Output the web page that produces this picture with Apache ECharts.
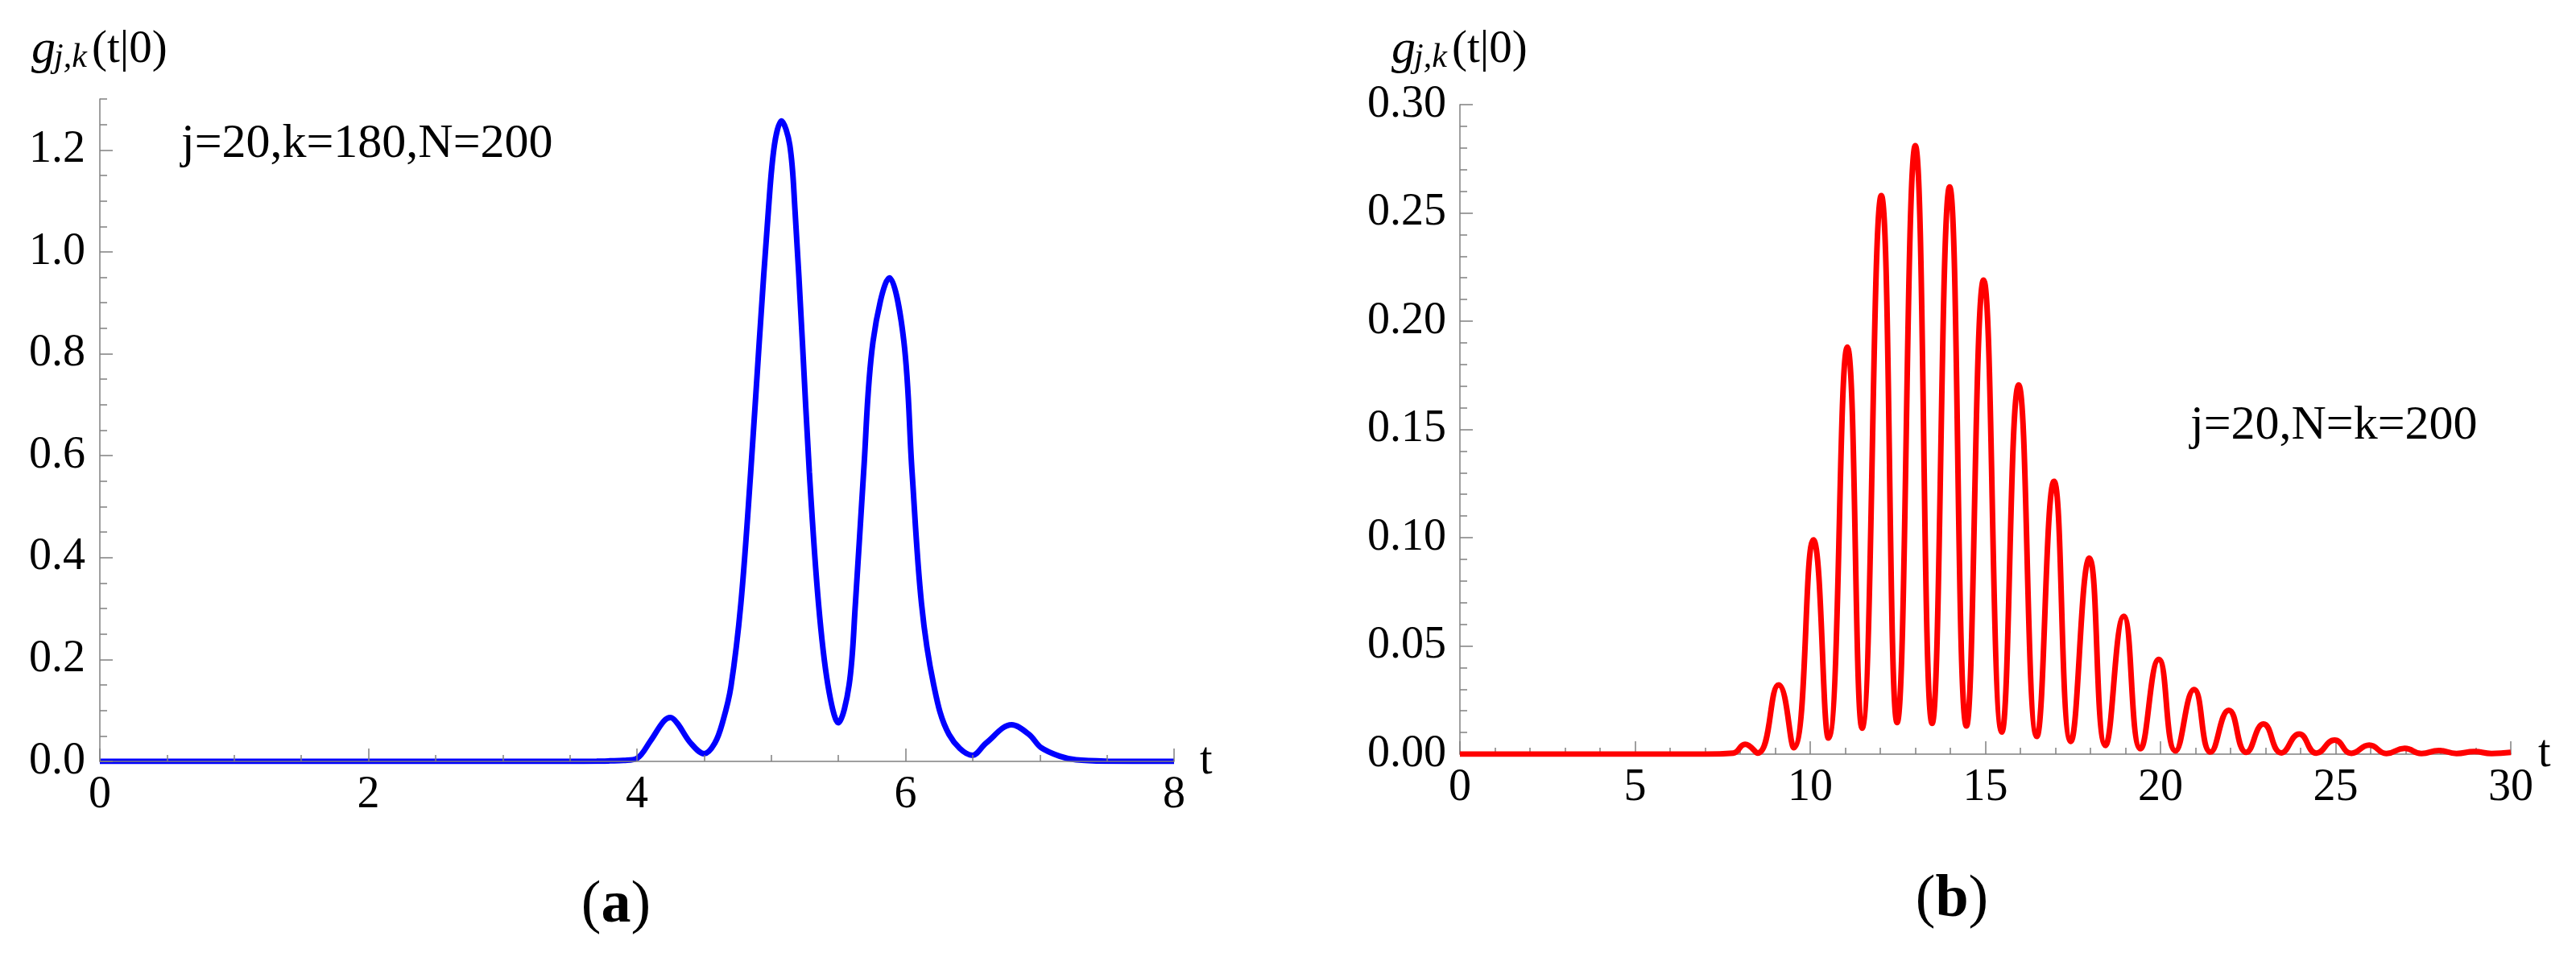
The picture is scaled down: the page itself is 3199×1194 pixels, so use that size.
<!DOCTYPE html>
<html><head><meta charset="utf-8">
<script src="https://cdn.jsdelivr.net/npm/echarts@6/dist/echarts.min.js"></script>
<style>html,body{margin:0;padding:0;background:#fff;}#c{width:3199px;height:1194px;}</style>
</head><body><div id="c"></div>
<script>
// ---- data ----
const leftT = [0,1,2,3,3.5,3.7,3.8,3.9,4.0,4.1,4.2,4.25,4.3,4.4,4.5,4.58,4.64,4.70,4.774,4.847,4.911,4.979,5.024,5.076,5.138,5.177,5.232,5.284,5.352,5.422,5.5,5.58,5.627,5.688,5.758,5.881,5.988,6.049,6.119,6.21,6.324,6.5,6.6,6.79,6.92,7.01,7.15,7.27,7.5,8.0];
const leftG = [0,0,0,0,0,0.0003,0.001,0.002,0.006,0.04,0.079,0.086,0.075,0.036,0.015,0.036,0.079,0.147,0.31,0.567,0.824,1.082,1.21,1.257,1.21,1.082,0.824,0.567,0.31,0.15,0.076,0.15,0.31,0.567,0.824,0.949,0.824,0.567,0.31,0.15,0.053,0.012,0.036,0.072,0.053,0.027,0.01,0.003,0.0005,0];
const rightT = [0,7,7.8,8.14,8.5,9.1,9.53,10.09,10.52,11.06,11.48,12.03,12.48,13.0,13.48,13.98,14.46,14.95,15.47,15.95,16.47,16.96,17.44,17.97,18.43,18.95,19.43,19.95,20.43,20.96,21.43,21.95,22.45,22.94,23.45,23.96,24.45,24.97,25.45,25.96,26.45,26.97,27.45,27.95,28.45,28.96,29.45,30];
const rightG = [0,0,0.0005,0.0046,0.0005,0.032,0.003,0.099,0.0074,0.188,0.012,0.258,0.0146,0.281,0.0142,0.262,0.013,0.219,0.0102,0.1705,0.0082,0.126,0.0059,0.0905,0.004,0.0637,0.0025,0.0438,0.0015,0.0298,0.001,0.0203,0.0008,0.0139,0.0006,0.0093,0.0005,0.0065,0.0004,0.0042,0.0003,0.0027,0.0003,0.0017,0.0003,0.0012,0.0003,0.0008];
const leftYTicks = [0,0.2,0.4,0.6,0.8,1.0,1.2];
const leftXRange = [0,8], leftYRange = [0,1.3];
const rightXRange = [0,30], rightYRange = [0,0.30];
const leftLabel = 'j=20,k=180,N=200';
const rightLabel = 'j=20,N=k=200';

// ---- layout ----
const FONT = '"Liberation Serif", "Times New Roman", Times, serif';
const AX = '#808080';
const G1 = {left:124, top:123, width:1334, height:823};
const G2 = {left:1813, top:130, width:1305, height:807};

const chart = echarts.init(document.getElementById('c'), null, {renderer:'canvas'});

function xAx(grid, range, interval, minorSplit){
  return {
    type:'value', gridIndex:grid, min:range[0], max:range[1], interval:interval,
    axisLine:{show:true, onZero:false, lineStyle:{color:AX, width:1.5}},
    axisTick:{show:true, inside:true, length:16, lineStyle:{color:AX, width:1.5}},
    minorTick:{show:true, splitNumber:minorSplit, length:8, lineStyle:{color:AX, width:1.5}},
    splitLine:{show:false}, minorSplitLine:{show:false},
    axisLabel:{fontFamily:FONT, fontSize:56, color:'#000', margin:14},
    name:'t', nameLocation:'end', nameGap:32,
    nameTextStyle:{fontFamily:FONT, fontSize:56, color:'#000', align:'left', verticalAlign:'middle'},
    z:5
  };
}

const option = {
  animation:false,
  backgroundColor:'#fff',
  textStyle:{fontFamily:FONT},
  grid:[
    Object.assign({containLabel:false}, G1),
    Object.assign({containLabel:false}, G2)
  ],
  xAxis:[
    xAx(0, leftXRange, 2, 4),
    xAx(1, rightXRange, 5, 5)
  ],
  yAxis:[
    { // left, minor ticks + line
      type:'value', gridIndex:0, position:'left', min:leftYRange[0], max:leftYRange[1], interval:0.05,
      axisLine:{show:true, onZero:false, lineStyle:{color:AX, width:1.5}},
      axisTick:{show:true, inside:true, length:9, lineStyle:{color:AX, width:1.5}},
      axisLabel:{show:false}, splitLine:{show:false}, z:5
    },
    { // left, major ticks + labels
      type:'value', gridIndex:0, position:'left', min:leftYRange[0], max:leftYRange[1],
      axisLine:{show:false},
      axisTick:{show:true, inside:true, length:16, customValues:leftYTicks, lineStyle:{color:AX, width:1.5}},
      axisLabel:{show:true, customValues:leftYTicks, fontFamily:FONT, fontSize:56, color:'#000', margin:18,
        formatter:v=>Number(v).toFixed(1)},
      splitLine:{show:false}, z:5
    },
    { // right
      type:'value', gridIndex:1, position:'left', min:rightYRange[0], max:rightYRange[1], interval:0.05,
      axisLine:{show:true, onZero:false, lineStyle:{color:AX, width:1.5}},
      axisTick:{show:true, inside:true, length:16, lineStyle:{color:AX, width:1.5}},
      minorTick:{show:true, splitNumber:5, length:9, lineStyle:{color:AX, width:1.5}},
      axisLabel:{fontFamily:FONT, fontSize:56, color:'#000', margin:17, formatter:v=>Number(v).toFixed(2)},
      splitLine:{show:false}, minorSplitLine:{show:false}
    }
  ],
  series:[
    {type:'line', xAxisIndex:0, yAxisIndex:0, data:leftT.map((t,i)=>[t,leftG[i]]),
     smooth:0.35, showSymbol:false, symbol:'none', lineStyle:{color:'#0000ff', width:7}, z:2},
    {type:'line', xAxisIndex:1, yAxisIndex:2, data:rightT.map((t,i)=>[t,rightG[i]]),
     smooth:0.5, showSymbol:false, symbol:'none', lineStyle:{color:'#ff0000', width:7}, z:6}
  ],
  graphic:[]
};

function txt(x, y, text, size, extra){
  return {type:'text', x:x, y:y, silent:true, style:Object.assign({text:text, fontFamily:FONT, fontSize:size, fill:'#000', verticalAlign:'middle', align:'left'}, extra||{})};
}
function title(axisX){
  return [
    txt(axisX-85, 62, 'g', 60, {fontStyle:'italic'}),
    txt(axisX-57, 72, 'j,k', 42, {fontStyle:'italic'}),
    txt(axisX-10, 62, '(t|0)', 57)
  ];
}
option.graphic = [].concat(
  title(G1.left), title(G2.left),
  [txt(225, 179, leftLabel, 60), txt(2720, 529, rightLabel, 60)],
  [{type:'text', x:765, y:1126, silent:true, style:{text:'{n|(}{b|a}{n|)}', align:'center', verticalAlign:'middle',
     rich:{n:{fontFamily:FONT, fontSize:74, fill:'#000'}, b:{fontFamily:FONT, fontSize:74, fontWeight:'bold', fill:'#000'}}}},
   {type:'text', x:2424, y:1119, silent:true, style:{text:'{n|(}{b|b}{n|)}', align:'center', verticalAlign:'middle',
     rich:{n:{fontFamily:FONT, fontSize:74, fill:'#000'}, b:{fontFamily:FONT, fontSize:74, fontWeight:'bold', fill:'#000'}}}}]
);
chart.setOption(option);
</script>
</body></html>
